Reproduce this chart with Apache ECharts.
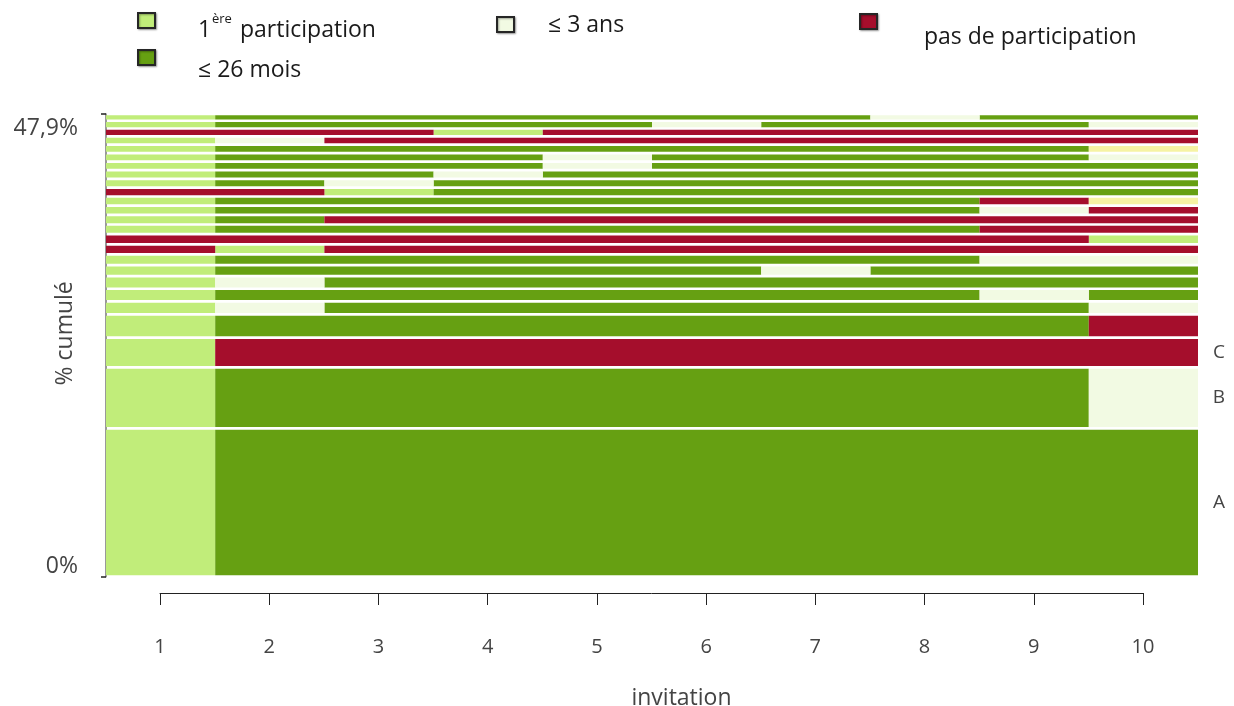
<!DOCTYPE html>
<html>
<head>
<meta charset="utf-8">
<script src="https://cdn.jsdelivr.net/npm/echarts@6/dist/echarts.min.js"></script>
<style>
html,body{margin:0;padding:0;background:#fff;}
#chart{width:1234px;height:706px;}
</style>
</head>
<body>
<div id="chart"></div>
<script>
// ---- data ----
const invitations = [1, 2, 3, 4, 5, 6, 7, 8, 9, 10];
const stateCodes = ['L', 'G', 'P', 'R', 'Y'];
const stateNames = ['1ère participation', '≤ 26 mois', '≤ 3 ans', 'pas de participation', 'autre'];
const stateColors = ['#C1ED7A', '#66A012', '#F2FAE3', '#A50E2C', '#F6F3A4'];
// sequences listed from bottom (most frequent) to top
const sequences = [
  'LGGGGGGGGG', 'LGGGGGGGGP', 'LRRRRRRRRR', 'LGGGGGGGGR', 'LPGGGGGGGP',
  'LGGGGGGGPG', 'LPGGGGGGGG', 'LGGGGGPGGG', 'LGGGGGGGPP', 'RLRRRRRRRR',
  'RRRRRRRRRL', 'LGGGGGGGRR', 'LGRRRRRRRR', 'LGGGGGGGPR', 'LGGGGGGGRY',
  'RRLGGGGGGG', 'LGPGGGGGGG', 'LGGPGGGGGG', 'LGGGPGGGGG', 'LGGGPGGGGP',
  'LGGGGGGGGY', 'LPRRRRRRRR', 'RRRLRRRRRR', 'LGGGGPGGGP', 'LGGGGGGPGG'
];
const frequencies = [
  15.36, 6.3, 3.1, 2.4, 1.35,
  1.3, 1.3, 1.15, 1.1, 1.05,
  1.05, 1.0, 1.0, 0.95, 0.95,
  0.92, 0.9, 0.9, 0.9, 0.88,
  0.87, 0.85, 0.82, 0.8, 0.7
];
const rowLabels = ['A', 'B', 'C'];
const yMax = 47.9;
const yTickLabels = ['0%', '47,9%'];

// ---- build cell runs per state ----
const runsByState = stateCodes.map(() => []);
const rowMids = [];
let cum = 0;
sequences.forEach((seq, r) => {
  const y0 = cum, y1 = cum + frequencies[r];
  rowMids.push((y0 + y1) / 2);
  let start = 0;
  for (let i = 1; i <= seq.length; i++) {
    if (i === seq.length || seq[i] !== seq[start]) {
      const s = stateCodes.indexOf(seq[start]);
      runsByState[s].push([start, i, y0, y1]);
      start = i;
    }
  }
  cum = y1;
});

const gapPx = 1.35;
function cellRender(params, api) {
  const p0 = api.coord([api.value(0), api.value(3)]);
  const p1 = api.coord([api.value(1), api.value(2)]);
  return {
    type: 'rect',
    shape: { x: p0[0], y: p0[1] + gapPx, width: p1[0] - p0[0], height: Math.max(0.5, p1[1] - p0[1] - 2 * gapPx) },
    style: { fill: api.visual('color') }
  };
}

const series = stateCodes.map((c, s) => ({
  type: 'custom',
  name: stateNames[s],
  xAxisIndex: 0, yAxisIndex: 0,
  itemStyle: { color: stateColors[s] },
  renderItem: cellRender,
  encode: { x: [0, 1], y: [2, 3] },
  data: runsByState[s],
  silent: true
}));

series.push({
  type: 'custom',
  name: 'labels',
  xAxisIndex: 0, yAxisIndex: 0,
  clip: false,
  silent: true,
  data: rowLabels.map((l, i) => [10, rowMids[i]]),
  encode: { x: 0, y: 1 },
  renderItem: function (params, api) {
    const p = api.coord([api.value(0), api.value(1)]);
    return {
      type: 'text',
      x: p[0] + 21, y: p[1],
      style: { text: rowLabels[params.dataIndex], fill: '#444', font: '19px "Open Sans"', align: 'center', verticalAlign: 'middle' }
    };
  }
});

series.push({ type: 'scatter', xAxisIndex: 1, yAxisIndex: 1, data: [], silent: true });

// ---- legend drawn as graphic ----
const legendFont = '23px "Open Sans"';
function sq(x, y, color) {
  return { type: 'rect', shape: { x: x, y: y, width: 17, height: 15 },
    style: { fill: color, stroke: '#262626', lineWidth: 2, shadowColor: 'rgba(0,0,0,0.35)', shadowBlur: 2, shadowOffsetX: 1, shadowOffsetY: 1 } };
}
function txt(x, y, t, font) {
  return { type: 'text', x: x, y: y, style: { text: t, font: font || legendFont, fill: '#1a1a1a', verticalAlign: 'middle' } };
}

const chart = echarts.init(document.getElementById('chart'));
chart.setOption({
  animation: false,
  textStyle: { fontFamily: 'Open Sans' },
  grid: [
    { left: 106, right: 36, top: 114, bottom: 129.3, outerBoundsMode: 'none', containLabel: false },
    { left: 160, right: 91, top: 560, bottom: 113, outerBoundsMode: 'none', containLabel: false }
  ],
  xAxis: [
    { type: 'value', gridIndex: 0, min: 0, max: 10, show: false },
    { type: 'value', gridIndex: 1, min: 1, max: 10, interval: 1, position: 'bottom',
      axisLine: { show: true, lineStyle: { color: '#222', width: 1 } },
      axisTick: { show: true, length: 12, lineStyle: { color: '#222' } },
      axisLabel: { margin: 44, fontSize: 20, color: '#444', formatter: v => String(invitations[v - 1]) },
      splitLine: { show: false },
      name: 'invitation', nameLocation: 'middle', nameGap: 94, nameMoveOverlap: false,
      nameTextStyle: { fontSize: 23, color: '#444', padding: [0, 0, 0, 60] } }
  ],
  yAxis: [
    { type: 'value', gridIndex: 0, min: 0, max: yMax, interval: yMax, offset: 5,
      axisLine: { show: true, lineStyle: { color: '#777', width: 1.5 } },
      axisTick: { show: true, length: 5, lineStyle: { color: '#222', width: 1.5 } },
      axisLabel: { margin: 23, color: '#444',
        formatter: v => (v === 0 ? '{b|' + yTickLabels[0] + '}' : '{t|' + yTickLabels[1] + '}'),
        rich: {
          t: { fontSize: 23, color: '#444', padding: [28, 0, 0, 0] },
          b: { fontSize: 23, color: '#444', padding: [0, 0, 20, 0] }
        } },
      splitLine: { show: false },
      name: '% cumulé', nameLocation: 'middle', nameGap: 24, nameRotate: 90, nameMoveOverlap: false,
      nameTextStyle: { fontSize: 23, color: '#444', padding: [0, 0, 0, 24] } },
    { type: 'value', gridIndex: 1, show: false, min: 0, max: 1 }
  ],
  series: series,
  graphic: [
    sq(138, 13, stateColors[0]),
    txt(198, 30, '1'),
    txt(212, 19, 'ère', '13px "Open Sans"'),
    txt(240, 30, 'participation'),
    sq(138, 50, stateColors[1]),
    txt(198, 70, '≤ 26 mois'),
    sq(497, 17, stateColors[2]),
    txt(548, 25, '≤ 3 ans'),
    sq(860, 14, stateColors[3]),
    txt(924, 37, 'pas de participation')
  ]
});
</script>
</body>
</html>
